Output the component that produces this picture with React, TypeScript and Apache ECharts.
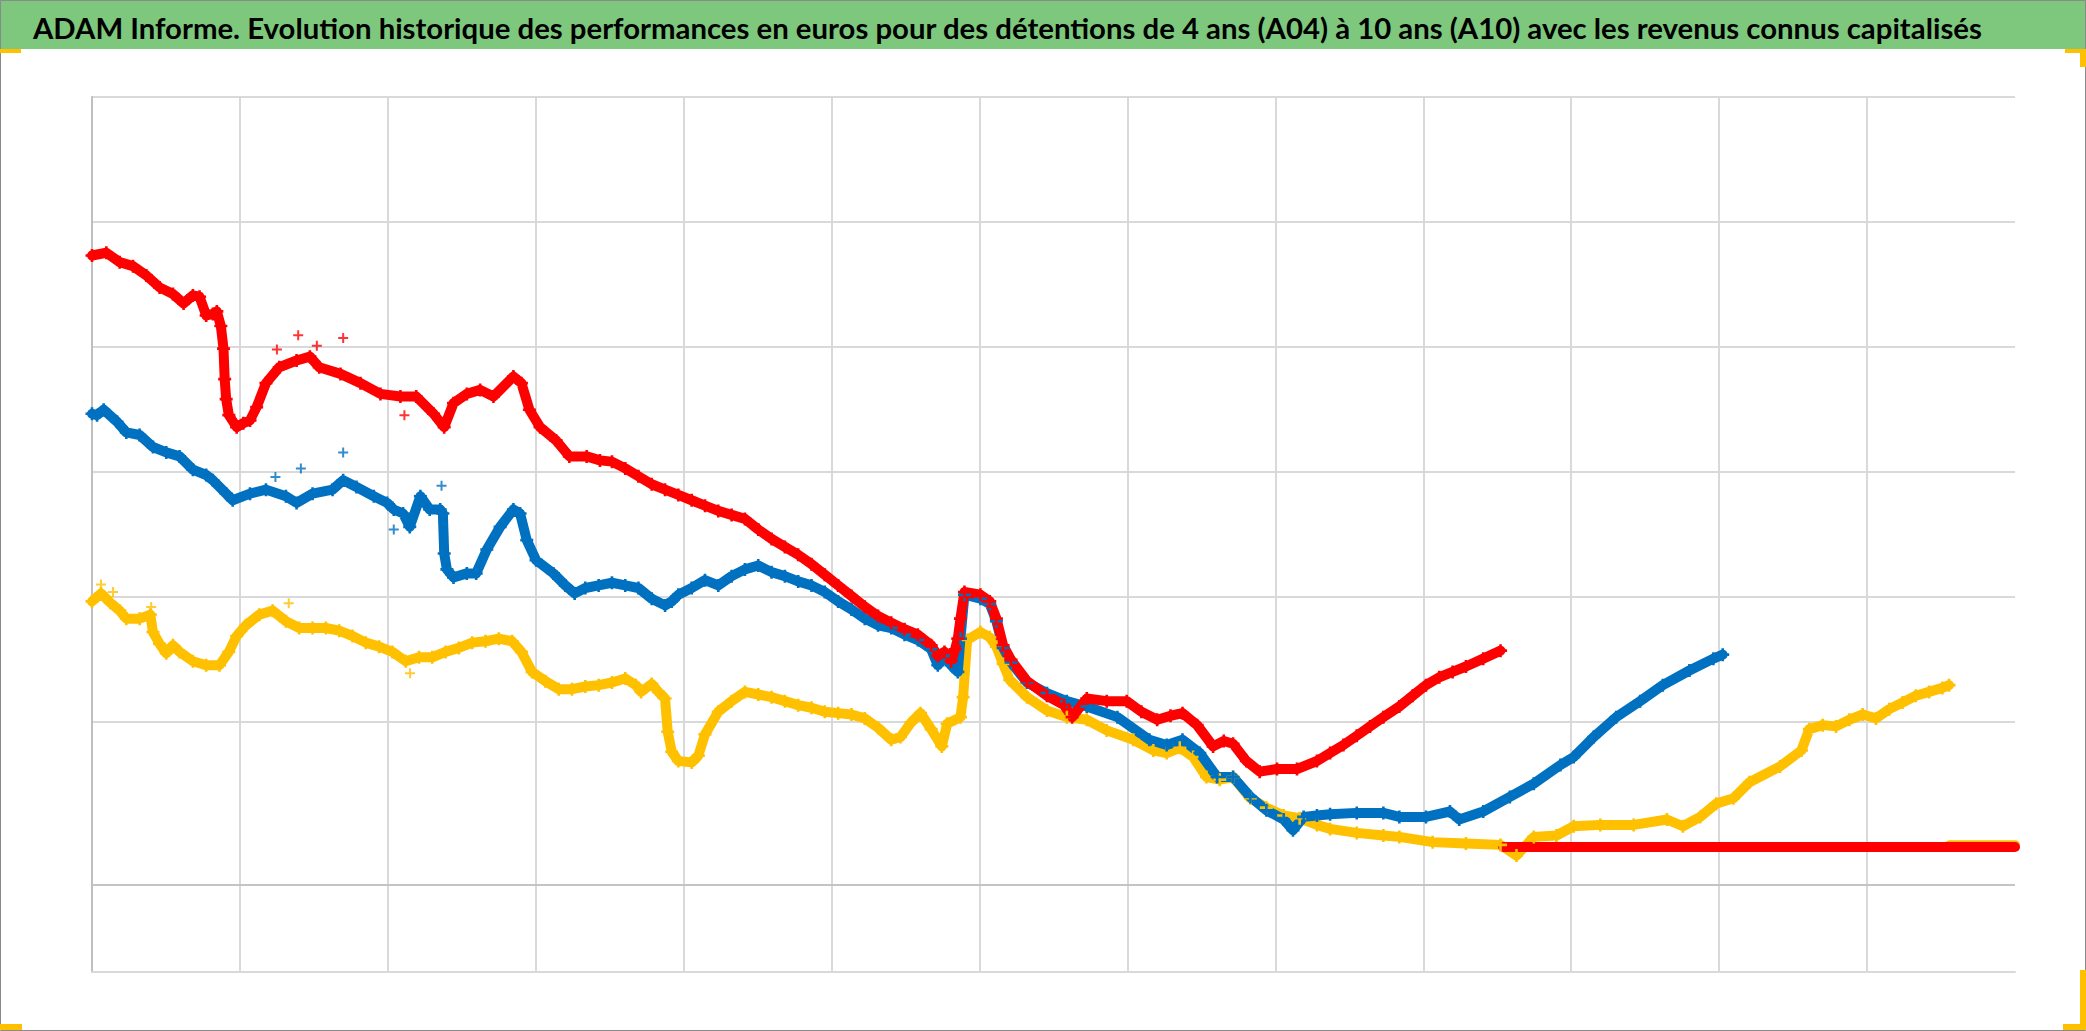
import React, { useEffect, useRef } from "react";
import * as echarts from "echarts";

const TITLE =
  "ADAM Informe. Evolution historique des performances en euros pour des détentions de 4 ans (A04) à 10 ans (A10) avec les revenus connus capitalisés";

// x: time (grid column = 10 units), y: performance index (grid step = 10 units)
const RED: [number, number][] = [
  [0, 57.32], [0.97, 57.54], [1.87, 56.79], [2.77, 56.47], [3.67, 55.73], [4.57, 54.77], [5.47, 54.24],
  [6.19, 53.49], [6.82, 54.13], [7.27, 54.02], [7.72, 52.53], [8.17, 52.64], [8.44, 52.85], [8.71, 51.68],
  [8.89, 49.87], [8.97, 47.43], [9.07, 45.83], [9.25, 44.55], [9.78, 43.59], [10.23, 43.91], [10.68, 44.13],
  [11.13, 45.19], [11.76, 47.11], [12.66, 48.38], [13.83, 48.92], [14.73, 49.23], [15.36, 48.38], [16.8, 47.85],
  [18.15, 47.11], [19.5, 46.25], [20.85, 46.04], [21.92, 46.04], [23.09, 44.66], [23.81, 43.59], [24.44, 45.51],
  [25.34, 46.25], [26.24, 46.57], [27.14, 46.04], [28.49, 47.64], [29.03, 47.11], [29.57, 44.98], [30.29, 43.59],
  [31.37, 42.53], [32.27, 41.25], [33.44, 41.25], [34.34, 40.93], [35.15, 40.83], [36.05, 40.29], [36.94, 39.66],
  [37.84, 39.02], [38.74, 38.59], [39.64, 38.17], [40.54, 37.74], [41.44, 37.31], [42.34, 36.89], [43.24, 36.57],
  [44.14, 36.25], [45.04, 35.4], [45.94, 34.65], [46.84, 34.01], [47.74, 33.38], [48.64, 32.63], [49.54, 31.78],
  [50.44, 30.93], [51.34, 30.08], [52.24, 29.23], [53.14, 28.48], [54.03, 27.95], [54.93, 27.42], [55.83, 26.99],
  [56.73, 26.14], [57.18, 25.29], [57.63, 25.61], [58.08, 24.86], [58.35, 25.82], [58.53, 26.67], [58.71, 28.27],
  [58.98, 30.4], [60.06, 30.18], [60.69, 29.65], [61.14, 28.27], [61.59, 26.14], [62.13, 24.97], [63.21, 23.27],
  [64.56, 22.1], [65.72, 21.35], [66.26, 20.39], [67.25, 21.88], [68.6, 21.67], [69.95, 21.67], [70.94, 20.82],
  [72.01, 20.18], [72.91, 20.5], [73.72, 20.71], [74.71, 19.75], [75.79, 18.05], [76.51, 18.48], [77.14, 18.26],
  [78.04, 16.88], [78.94, 16.03], [80.11, 16.24], [81.46, 16.24], [82.81, 16.88], [83.7, 17.52], [84.6, 18.16],
  [85.5, 18.9], [86.4, 19.65], [87.3, 20.39], [88.38, 21.24], [89.28, 22.1], [90.18, 22.95], [91.08, 23.58],
  [91.98, 24.01], [92.88, 24.44], [94.05, 25.07], [95.22, 25.71],
];

const BLUE: [number, number][] = [
  [0, 44.66], [0.34, 44.55], [0.79, 44.98], [1.69, 44.02], [2.32, 43.17], [3.22, 42.96], [4.12, 42.0],
  [5.02, 41.57], [5.92, 41.25], [6.82, 40.19], [7.72, 39.76], [8.17, 39.34], [9.07, 38.27], [9.51, 37.74],
  [10.68, 38.27], [11.76, 38.59], [13.11, 38.06], [13.83, 37.53], [14.91, 38.27], [16.26, 38.59], [16.98, 39.34],
  [17.88, 38.8], [19.05, 38.06], [19.95, 37.53], [20.4, 37.0], [21.03, 36.68], [21.48, 35.61], [22.2, 38.06],
  [22.83, 37.0], [23.54, 37.0], [23.72, 36.68], [23.81, 33.48], [23.99, 32.21], [24.44, 31.57], [25.34, 31.89],
  [25.97, 31.89], [26.69, 33.8], [27.59, 35.61], [28.49, 37.0], [28.94, 36.68], [29.39, 34.55], [30.02, 32.95],
  [31.19, 31.89], [32.0, 30.93], [32.63, 30.29], [33.35, 30.72], [34.25, 30.93], [35.15, 31.14], [36.05, 30.93],
  [36.94, 30.72], [37.84, 29.86], [38.74, 29.33], [39.19, 29.65], [39.64, 30.18], [40.54, 30.72], [41.44, 31.35],
  [42.34, 30.93], [43.24, 31.67], [44.14, 32.21], [45.04, 32.52], [45.94, 31.99], [46.84, 31.67], [47.74, 31.25],
  [48.64, 30.93], [49.54, 30.4], [50.44, 29.65], [51.34, 29.01], [52.24, 28.27], [53.14, 27.74], [54.03, 27.52],
  [54.93, 26.99], [55.83, 26.56], [56.73, 25.82], [57.18, 24.54], [57.63, 25.29], [58.08, 24.54], [58.53, 24.01],
  [58.71, 26.67], [58.98, 30.18], [60.06, 29.86], [60.69, 29.44], [61.14, 28.06], [61.59, 25.93], [62.13, 24.76],
  [63.21, 23.16], [64.56, 22.31], [65.9, 21.67], [67.25, 21.24], [69.32, 20.39], [71.48, 18.58], [72.65, 18.16],
  [73.72, 18.58], [74.89, 17.52], [76.06, 15.6], [77.14, 15.6], [78.31, 14.01], [79.39, 12.94], [80.56, 12.2],
  [81.19, 11.35], [81.91, 12.41], [82.81, 12.52], [83.7, 12.62], [85.5, 12.73], [87.3, 12.73], [88.38, 12.41],
  [90.18, 12.41], [91.8, 12.84], [92.43, 12.2], [94.05, 12.84], [95.85, 14.01], [97.47, 15.07], [99.27, 16.56],
  [100.17, 17.2], [101.52, 18.8], [103.04, 20.39], [104.66, 21.67], [106.19, 22.95], [107.99, 24.12],
  [109.61, 25.07], [110.24, 25.39],
];

const YELLOW: [number, number][] = [
  [0, 29.65], [0.61, 30.29], [1.24, 29.54], [1.87, 28.91], [2.32, 28.27], [3.22, 28.27], [3.94, 28.59],
  [4.12, 27.2], [4.57, 26.25], [5.02, 25.5], [5.47, 26.14], [5.92, 25.61], [6.82, 24.86], [7.72, 24.54],
  [8.62, 24.54], [9.25, 25.61], [9.78, 26.88], [10.41, 27.74], [11.31, 28.59], [12.21, 28.91], [13.11, 28.06],
  [14.01, 27.52], [14.91, 27.52], [15.81, 27.52], [16.71, 27.31], [17.61, 26.88], [18.51, 26.35], [19.41, 26.03],
  [20.31, 25.61], [21.21, 24.86], [22.11, 25.18], [23.0, 25.18], [23.9, 25.61], [24.8, 25.93], [25.7, 26.35],
  [26.6, 26.46], [27.5, 26.67], [28.4, 26.46], [29.03, 25.61], [29.75, 24.01], [30.65, 23.27], [31.55, 22.63],
  [32.45, 22.63], [33.35, 22.84], [34.25, 22.95], [35.15, 23.16], [36.05, 23.48], [36.76, 22.95], [37.12, 22.41],
  [37.84, 23.05], [38.29, 22.41], [38.74, 21.88], [38.92, 19.22], [39.19, 17.62], [39.64, 16.88], [40.54, 16.77],
  [40.99, 17.31], [41.44, 19.01], [42.34, 20.82], [43.24, 21.67], [44.14, 22.41], [45.04, 22.2], [45.94, 21.99],
  [46.84, 21.67], [47.74, 21.35], [48.64, 21.14], [49.54, 20.82], [50.44, 20.71], [51.34, 20.6], [52.24, 20.29],
  [53.14, 19.54], [54.03, 18.58], [54.66, 18.8], [55.38, 19.97], [56.01, 20.71], [56.73, 19.43], [57.45, 18.05],
  [57.81, 19.86], [58.71, 20.39], [58.89, 21.99], [59.16, 26.56], [60.06, 27.2], [60.69, 26.78], [61.14, 26.03],
  [61.59, 24.65], [62.04, 23.37], [63.21, 21.99], [64.56, 20.92], [65.9, 20.39], [67.25, 20.18], [68.6, 19.33],
  [70.4, 18.58], [71.75, 17.73], [72.65, 17.52], [73.54, 17.94], [74.44, 17.2], [75.34, 15.6], [76.24, 15.39],
  [77.14, 15.6], [78.31, 13.9], [79.39, 13.15], [80.56, 12.52], [81.64, 12.3], [82.81, 11.77], [83.7, 11.45],
  [85.5, 11.13], [87.3, 10.92], [88.38, 10.81], [90.63, 10.39], [92.88, 10.28], [95.22, 10.17], [96.3, 9.32],
  [97.47, 10.81], [99.0, 10.92], [100.17, 11.66], [101.97, 11.77], [104.22, 11.77], [106.47, 12.2], [107.55, 11.66],
  [108.72, 12.41], [109.8, 13.47], [110.97, 13.9], [112.05, 15.18], [114.12, 16.45], [115.56, 17.73], [116.1, 19.43],
  [117.0, 19.75], [117.9, 19.65], [118.8, 20.18], [119.7, 20.6], [120.6, 20.29], [121.5, 21.03], [122.4, 21.56],
  [123.29, 22.1], [124.19, 22.41], [125.09, 22.73], [125.54, 22.95],
];

const RED_FLAT: [number, number][] = [[95.4, 10.0], [130, 10.0]];
const YELLOW_FLAT: [number, number][] = [[125.6, 10.15], [130, 10.15]];

const RED_OUTLIERS: [number, number][] = [[13.94, 50.94], [16.98, 50.73], [21.12, 44.55], [12.5, 49.8], [15.2, 50.1]];
const BLUE_OUTLIERS: [number, number][] = [[14.12, 40.29], [16.98, 41.57], [23.63, 38.91], [20.4, 35.4], [12.4, 39.6]];
const YELLOW_OUTLIERS: [number, number][] = [[0.61, 31.0], [1.42, 30.4], [4.0, 29.2], [13.3, 29.5], [21.5, 23.9]];

const X_MIN = 0;
const X_MAX = 130;
const X_STEP = 10;
const Y_MIN = 0;
const Y_MAX = 70;
const Y_STEP = 10;
const AXIS_CROSS = 7;

const RED_C = "#FF0000";
const BLUE_C = "#0070C0";
const YELLOW_C = "#FFC000";
const PLUS = "path://M4,0H6V4H10V6H6V10H4V6H0V4H4Z";

function band(name: string, data: [number, number][], color: string, width: number, marks: boolean) {
  return {
    name,
    type: "line",
    data,
    symbol: PLUS,
    symbolSize: 13,
    showSymbol: marks,
    showAllSymbol: true,
    itemStyle: { color },
    lineStyle: { color, width, cap: "round", join: "round" },
    emphasis: { disabled: true },
    silent: true,
  };
}

function outliers(name: string, data: [number, number][], color: string) {
  return {
    name,
    type: "scatter",
    data,
    symbol: PLUS,
    symbolSize: 10,
    itemStyle: { color },
    silent: true,
  };
}

export default function App() {
  const ref = useRef<HTMLDivElement>(null);

  useEffect(() => {
    document.body.style.margin = "0";
    if (!ref.current) return;
    const chart = echarts.init(ref.current, undefined, { renderer: "svg" });

    let fs = 28;
    try {
      const ctx = document.createElement("canvas").getContext("2d");
      if (ctx) {
        ctx.font = "bold 30px Lato";
        const w = ctx.measureText(TITLE).width;
        if (w > 0) fs = (30 * 1950) / w;
      }
    } catch (e) {}

    const gridColors = ["#d9d9d9", "rgba(0,0,0,0)", "#d9d9d9", "#d9d9d9", "#d9d9d9", "#d9d9d9", "#d9d9d9", "#d9d9d9"];

    chart.setOption({
      animation: false,
      backgroundColor: "#ffffff",
      grid: { left: 92, right: 71, top: 97, bottom: 59, containLabel: false },
      xAxis: {
        type: "value",
        min: X_MIN,
        max: X_MAX,
        interval: X_STEP,
        axisLabel: { show: false },
        axisTick: { show: false },
        axisLine: { show: true, lineStyle: { color: "#d9d9d9", width: 2 } },
        splitLine: { show: true, showMinLine: false, showMaxLine: false, lineStyle: { color: "#d9d9d9", width: 2 } },
      },
      yAxis: {
        type: "value",
        min: Y_MIN,
        max: Y_MAX,
        interval: Y_STEP,
        axisLabel: { show: false },
        axisTick: { show: false },
        axisLine: { show: true, lineStyle: { color: "#bfbfbf", width: 2 } },
        splitLine: { show: true, lineStyle: { color: gridColors, width: 2 } },
      },
      graphic: [
        { type: "rect", shape: { x: 0, y: 0, width: 2086, height: 49 }, style: { fill: "#7ec87e" } },
        {
          type: "text",
          x: 33,
          y: 27,
          style: {
            text: TITLE,
            fontFamily: "Lato",
            fontWeight: "bold",
            fontSize: fs,
            fill: "#000000",
            align: "left",
            verticalAlign: "middle",
          },
        },
        { type: "rect", shape: { x: 0.5, y: 0.5, width: 2085, height: 1030 }, style: { fill: "none", stroke: "#8a8a8a", lineWidth: 1 } },
        { type: "rect", shape: { x: 0, y: 49, width: 21, height: 4 }, style: { fill: YELLOW_C } },
        { type: "rect", shape: { x: 2065, y: 49, width: 21, height: 4 }, style: { fill: YELLOW_C } },
        { type: "rect", shape: { x: 2080, y: 49, width: 6, height: 18 }, style: { fill: YELLOW_C } },
        { type: "rect", shape: { x: 0, y: 1024, width: 22, height: 6 }, style: { fill: YELLOW_C } },
        { type: "rect", shape: { x: 2063, y: 1024, width: 23, height: 6 }, style: { fill: YELLOW_C } },
        { type: "rect", shape: { x: 2080, y: 970, width: 6, height: 60 }, style: { fill: YELLOW_C } },
      ],
      series: [
        {
          ...band("A10", YELLOW, YELLOW_C, 10, true),
          markLine: {
            silent: true,
            symbol: "none",
            label: { show: false },
            lineStyle: { color: "#c4c4c4", width: 2, type: "solid" },
            data: [{ yAxis: AXIS_CROSS }],
          },
        },
        band("A10 fin", YELLOW_FLAT, YELLOW_C, 10, false),
        outliers("A10 pts", YELLOW_OUTLIERS, YELLOW_C),
        band("A07", BLUE, BLUE_C, 10, true),
        outliers("A07 pts", BLUE_OUTLIERS, BLUE_C),
        band("A04", RED, RED_C, 10, true),
        outliers("A04 pts", RED_OUTLIERS, RED_C),
        band("A04 fin", RED_FLAT, RED_C, 10, false),
      ],
    });

    return () => chart.dispose();
  }, []);

  return (
    <div
      ref={ref}
      style={{ position: "absolute", left: 0, top: 0, width: 2086, height: 1031 }}
    />
  );
}
